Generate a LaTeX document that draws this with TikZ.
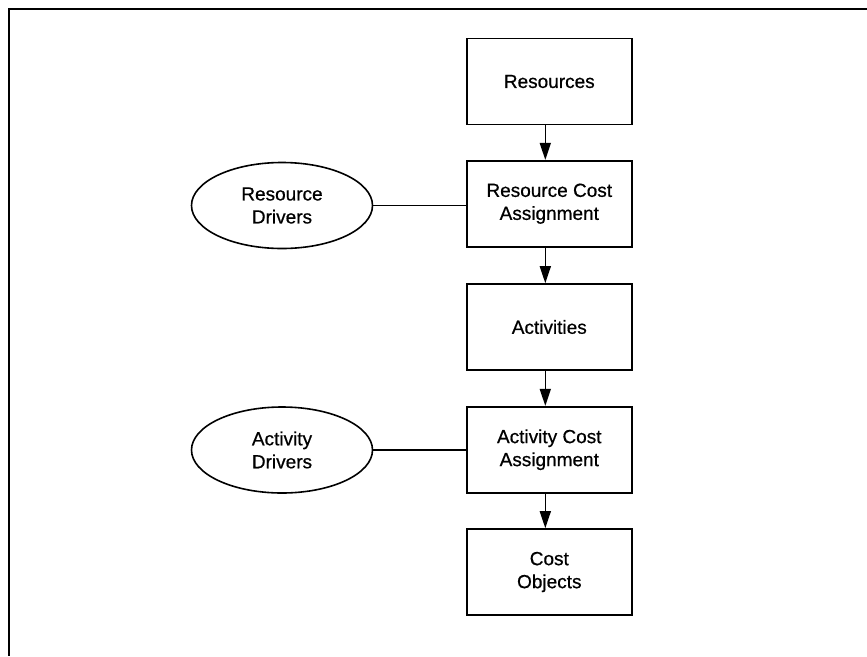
\documentclass[tikz,border=0pt]{standalone}
\usepackage{fontspec}
\setmainfont{Liberation Sans}
\newfontfamily\labelfont[FakeBold=0.6]{Liberation Sans}
\usetikzlibrary{arrows.meta,shapes.geometric}
\begin{document}
\begin{tikzpicture}[x=1pt,y=-1pt,
  stagebox/.style={draw,line width=1.6pt,minimum width=165pt,minimum height=86pt,
    inner sep=0pt,align=center,font=\labelfont\fontsize{19}{23}\selectfont},
  driver/.style={draw,ellipse,line width=1.6pt,minimum width=181pt,minimum height=86pt,
    inner sep=0pt,align=center,font=\labelfont\fontsize{19}{23}\selectfont},
  flow/.style={line width=1.6pt,-{Triangle[length=17pt,width=11pt]}},
  link/.style={line width=1.6pt}]
  \useasboundingbox (0,0) rectangle (867,656);
  % partial frame: top and left edges
  \draw[line width=2.4pt] (867,9) -- (9,9) -- (9,656);
  % main chain of stages
  \node[stagebox] (res) at (549.3,81.5)  {Resources};
  \node[stagebox] (rca) at (549.3,203.7) {Resource Cost\\Assignment};
  \node[stagebox] (act) at (549.3,327)   {Activities};
  \node[stagebox] (aca) at (549.3,449.7) {Activity Cost\\Assignment};
  \node[stagebox] (cob) at (549.3,572)   {Cost\\Objects};
  % drivers
  \node[driver] (rdr) at (282,205.5) {Resource\\Drivers};
  \node[driver] (adr) at (282,450)   {Activity\\Drivers};
  % arrows between stages
  \foreach \a/\b in {res/rca,rca/act,act/aca,aca/cob}
    \draw[flow] ([xshift=-4pt]\a.south) -- ([xshift=-4pt]\b.north);
  % driver links
  \draw[link] (rdr.east) -- (rca.west |- rdr.east);
  \draw[link] (adr.east) -- (aca.west |- adr.east);
\end{tikzpicture}
\end{document}
